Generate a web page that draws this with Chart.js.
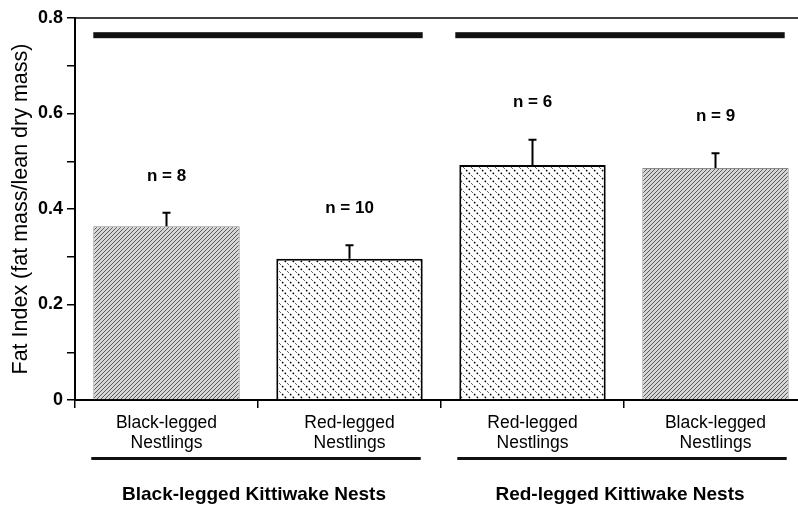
<!DOCTYPE html>
<html>
<head>
<meta charset="utf-8">
<script src="https://cdn.jsdelivr.net/npm/chart.js@4.4.1/dist/chart.umd.min.js"></script>
<style>
  html, body { margin: 0; padding: 0; background: #fff; overflow: hidden; }
  #wrap { width: 810px; height: 507px; }
</style>
</head>
<body>
<div id="wrap"><canvas id="chart"></canvas></div>
<script>
// values
const categories = [['Black-legged', 'Nestlings'], ['Red-legged', 'Nestlings'], ['Red-legged', 'Nestlings'], ['Black-legged', 'Nestlings']];
const fatIndex = [0.364, 0.296, 0.492, 0.486];
const errorUp = [0.028, 0.028, 0.053, 0.031];
const sampleSizes = [8, 10, 6, 9];
const groups = ['Black-legged Kittiwake Nests', 'Red-legged Kittiwake Nests'];
const groupMembers = [[0, 1], [2, 3]];
const significanceLevel = 0.764;

const FONT = '"Liberation Sans", Arial, Helvetica, sans-serif';

function hatchPattern() {
  const c = document.createElement('canvas');
  c.width = 4; c.height = 4;
  const g = c.getContext('2d');
  g.fillStyle = '#d6d6d6';
  g.fillRect(0, 0, 4, 4);
  g.strokeStyle = '#5a5a5a';
  g.lineWidth = 1;
  g.beginPath();
  g.moveTo(-1, 5); g.lineTo(5, -1);
  g.moveTo(-1, 1); g.lineTo(1, -1);
  g.moveTo(3, 5); g.lineTo(5, 3);
  g.stroke();
  return g.createPattern(c, 'repeat');
}

function dotPattern() {
  const c = document.createElement('canvas');
  c.width = 8; c.height = 8;
  const g = c.getContext('2d');
  g.fillStyle = '#fff';
  g.fillRect(0, 0, 8, 8);
  g.strokeStyle = '#000';
  g.lineWidth = 1.4;
  g.beginPath();
  for (const p of [0, 8 / 3, 16 / 3, 8]) {
    g.moveTo(p - 0.6, p - 0.6);
    g.lineTo(p + 0.6, p + 0.6);
  }
  g.stroke();
  return g.createPattern(c, 'repeat');
}

const fills = [hatchPattern(), dotPattern(), dotPattern(), hatchPattern()];
const edges = ['#8a8a8a', '#000', '#000', '#8a8a8a'];

const extras = {
  id: 'extras',
  afterDatasetsDraw(chart) {
    const { ctx, chartArea, scales: { x, y } } = chart;
    const meta = chart.getDatasetMeta(0);
    ctx.save();
    // frame line along the top
    ctx.strokeStyle = '#000';
    ctx.lineWidth = 1.5;
    ctx.beginPath();
    ctx.moveTo(chartArea.left, y.getPixelForValue(0.8));
    ctx.lineTo(chartArea.right, y.getPixelForValue(0.8));
    ctx.stroke();

    // error whiskers and sample sizes
    ctx.lineWidth = 2;
    ctx.font = 'bold 17px ' + FONT;
    ctx.fillStyle = '#000';
    ctx.textAlign = 'center';
    ctx.textBaseline = 'middle';
    meta.data.forEach((bar, i) => {
      const top = y.getPixelForValue(fatIndex[i] + errorUp[i]);
      ctx.beginPath();
      ctx.moveTo(bar.x, bar.y);
      ctx.lineTo(bar.x, top);
      ctx.moveTo(bar.x - 4, top);
      ctx.lineTo(bar.x + 4, top);
      ctx.stroke();
      ctx.fillText('n = ' + sampleSizes[i], bar.x, top - 37);
    });

    // group bars above and below
    groupMembers.forEach((members, gi) => {
      const first = meta.data[members[0]];
      const last = meta.data[members[members.length - 1]];
      const left = first.x - first.width / 2;
      const right = last.x + last.width / 2;
      ctx.fillStyle = '#111';
      ctx.fillRect(left - 4 * gi, y.getPixelForValue(significanceLevel) - 3, right - left, 6);
      ctx.fillRect(left - 2, x.bottom - 50, right - left, 3);
      ctx.fillStyle = '#000';
      ctx.font = 'bold 19px ' + FONT;
      ctx.fillText(groups[gi], (left + right) / 2 - 4, x.bottom - 12);
    });
    ctx.restore();
  }
};

new Chart(document.getElementById('chart'), {
  type: 'bar',
  data: {
    labels: categories,
    datasets: [{
      data: fatIndex,
      backgroundColor: fills,
      borderColor: edges,
      borderWidth: [1, 2, 2, 1],
      borderSkipped: 'bottom',
      barPercentage: 0.8,
      categoryPercentage: 1
    }]
  },
  options: {
    responsive: true,
    maintainAspectRatio: false,
    animation: false,
    layout: { padding: { top: 18, right: 3, left: 0, bottom: 0 } },
    plugins: { legend: { display: false }, tooltip: { enabled: false } },
    scales: {
      x: {
        afterFit: s => { s.height = 107; },
        grid: { offset: true, drawOnChartArea: false, tickLength: 8, color: '#000', lineWidth: 1.5 },
        border: { color: '#000', width: 2 },
        ticks: { color: '#000', padding: 5, font: { family: FONT, size: 17.5, lineHeight: 1.15 } }
      },
      y: {
        min: 0,
        max: 0.8,
        afterFit: s => { s.width = 75; },
        grid: { drawOnChartArea: false, tickLength: 8, color: '#000', lineWidth: 1.5 },
        border: { color: '#000', width: 2 },
        ticks: {
          stepSize: 0.1,
          color: '#000',
          padding: 4,
          font: { family: FONT, size: 18, weight: 'bold' },
          callback: v => {
            const t = Math.round(v * 10);
            if (t % 2) return '';
            return t === 0 ? '0' : (t / 10).toFixed(1);
          }
        },
        title: {
          display: true,
          text: 'Fat Index (fat mass/lean dry mass)',
          color: '#000',
          padding: { top: 8, bottom: 0 },
          font: { family: FONT, size: 21.5 }
        }
      }
    }
  },
  plugins: [extras]
});
</script>
</body>
</html>
